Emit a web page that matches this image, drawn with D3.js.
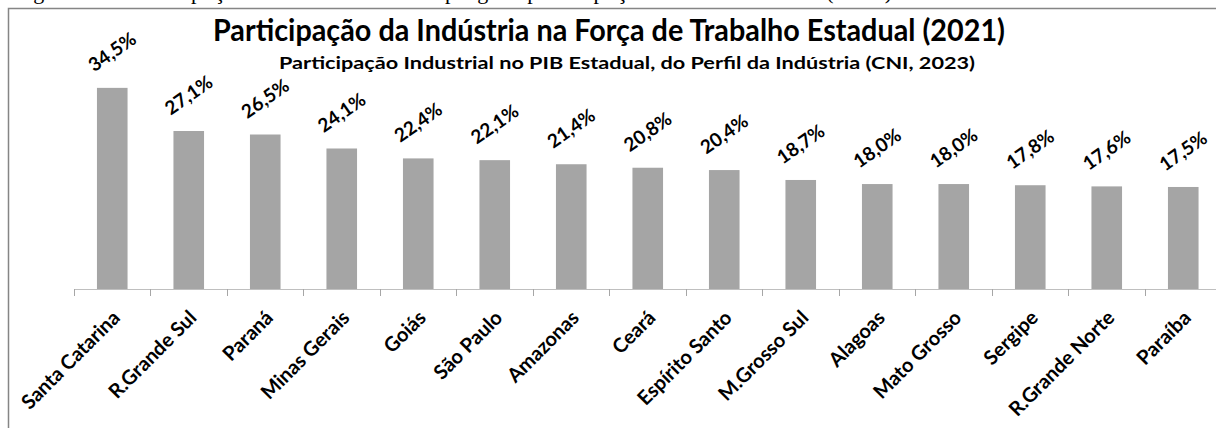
<!DOCTYPE html>
<html>
<head>
<meta charset="utf-8">
<script src="https://cdn.jsdelivr.net/npm/d3@7"></script>
<style>
  body { margin: 0; background: #fff; }
  svg { display: block; }
</style>
</head>
<body>
<div id="chart"></div>
<script>
var estados = ["Santa Catarina", "R.Grande Sul", "Paraná", "Minas Gerais", "Goiás", "São Paulo", "Amazonas",
               "Ceará", "Espírito Santo", "M.Grosso Sul", "Alagoas", "Mato Grosso", "Sergipe", "R.Grande Norte", "Paraíba"];
var participacao = [34.5, 27.1, 26.5, 24.1, 22.4, 22.1, 21.4, 20.8, 20.4, 18.7, 18.0, 18.0, 17.8, 17.6, 17.5];
var titulo = "Participação da Indústria na Força de Trabalho Estadual (2021)";
var subtitulo = "Participação Industrial no PIB Estadual, do Perfil da Indústria (CNI, 2023)";
var legenda = "Figura 2 – Participação da indústria no emprego e participação no PIB estadual (2021)";

var width = 1216, height = 428;
var font = "Lato, 'Open Sans', sans-serif";

var data = estados.map(function (d, i) { return {estado: d, valor: participacao[i]}; });

var svg = d3.select("#chart").append("svg")
    .attr("width", width)
    .attr("height", height);

// legenda da figura, cortada no topo (só as descendentes aparecem)
svg.append("text")
    .attr("x", 12)
    .attr("y", -1.5)
    .attr("textLength", 880)
    .attr("lengthAdjust", "spacing")
    .style("font-family", "'Liberation Serif', 'DejaVu Serif', serif")
    .style("font-size", "22px")
    .style("fill", "#000")
    .text(legenda);

// moldura
svg.append("path")
    .attr("d", "M8.5," + height + "V8.5H" + width)
    .style("fill", "none")
    .style("stroke", "#858585")
    .style("stroke-width", 1.5);

var x = d3.scaleBand()
    .domain(estados)
    .range([74, 74 + 15 * 76.5])
    .paddingInner(0.6)
    .paddingOuter(0.3);

var y = d3.scaleLinear()
    .domain([0, 40])
    .range([289, 289 - 40 * 5.83]);

var fmt = function (v) { return d3.format(".1f")(v).replace(".", ",") + "%"; };

// barras
svg.selectAll(".bar")
    .data(data)
  .enter().append("rect")
    .attr("class", "bar")
    .attr("x", function (d) { return x(d.estado); })
    .attr("y", function (d) { return y(d.valor); })
    .attr("width", x.bandwidth())
    .attr("height", function (d) { return y(0) - y(d.valor); })
    .style("fill", "#a5a5a5");

// eixo
var x0 = x.range()[0];
svg.append("line")
    .attr("x1", x0).attr("x2", width)
    .attr("y1", y(0) + 0.5).attr("y2", y(0) + 0.5)
    .style("stroke", "#bfbfbf");

var limites = estados.map(function (d) { return x(d) - x.step() * x.paddingOuter(); });
svg.selectAll(".tick")
    .data(limites)
  .enter().append("line")
    .attr("class", "tick")
    .attr("x1", function (d) { return Math.round(d) + 0.5; })
    .attr("x2", function (d) { return Math.round(d) + 0.5; })
    .attr("y1", y(0))
    .attr("y2", y(0) + 7)
    .style("stroke", "#a6a6a6");

// rótulos das categorias
svg.selectAll(".cat")
    .data(data)
  .enter().append("text")
    .attr("class", "cat")
    .attr("transform", function (d) {
        return "translate(" + (x(d.estado) + x.bandwidth() / 2 + 9) + "," + 319 + ") rotate(-45)";
    })
    .style("text-anchor", "end")
    .style("font-family", font)
    .style("font-weight", "bold")
    .style("font-size", "20px")
    .style("fill", "#000")
    .text(function (d) { return d.estado; });

// rótulos dos valores
svg.selectAll(".val")
    .data(data)
  .enter().append("text")
    .attr("class", "val")
    .attr("transform", function (d) {
        return "translate(" + (x(d.estado) + x.bandwidth() / 2) + "," + (y(d.valor) - 36) + ") rotate(-35)";
    })
    .attr("dy", "0.35em")
    .style("text-anchor", "middle")
    .style("font-family", font)
    .style("font-weight", "bold")
    .style("font-size", "19px")
    .style("fill", "#000")
    .text(function (d) { return fmt(d.valor); });

// títulos
svg.append("text")
    .attr("x", 213)
    .attr("y", 41)
    .attr("textLength", 792)
    .attr("lengthAdjust", "spacingAndGlyphs")
    .style("font-family", font)
    .style("font-weight", "bold")
    .style("font-size", "30px")
    .style("fill", "#000")
    .text(titulo);

svg.append("text")
    .attr("x", 279)
    .attr("y", 69)
    .attr("textLength", 696)
    .attr("lengthAdjust", "spacingAndGlyphs")
    .style("font-family", font)
    .style("font-weight", "bold")
    .style("font-size", "17.5px")
    .style("fill", "#000")
    .text(subtitulo);
</script>
</body>
</html>
